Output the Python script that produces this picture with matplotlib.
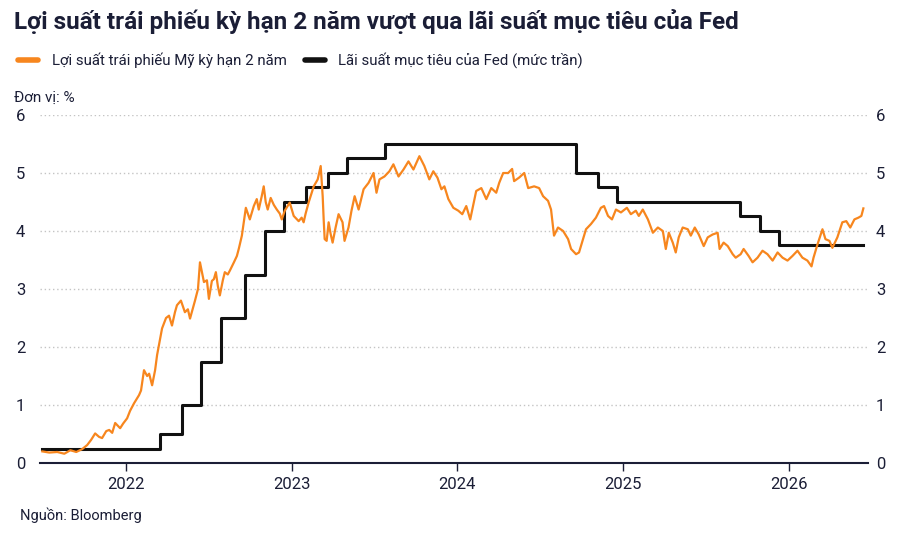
import numpy as np
import pandas as pd
import matplotlib
matplotlib.use("Agg")
import matplotlib.pyplot as plt

# ============================================================
# DATA (x in decimal years)
# ============================================================

yield_t = [
    2021.494, 2021.536, 2021.584, 2021.627, 2021.663, 2021.699, 2021.735, 2021.765,
    2021.789, 2021.813, 2021.837, 2021.855, 2021.880, 2021.898, 2021.916, 2021.934,
    2021.964, 2021.982, 2022.006, 2022.024, 2022.048, 2022.078, 2022.090, 2022.108,
    2022.127, 2022.139, 2022.157, 2022.175, 2022.187, 2022.217, 2022.241, 2022.259,
    2022.277, 2022.295, 2022.307, 2022.331, 2022.355, 2022.373, 2022.386, 2022.416,
    2022.434, 2022.446, 2022.470, 2022.488, 2022.500, 2022.518, 2022.530, 2022.542,
    2022.554, 2022.566, 2022.584, 2022.596, 2022.614, 2022.627, 2022.651, 2022.669,
    2022.681, 2022.699, 2022.723, 2022.747, 2022.771, 2022.789, 2022.801, 2022.819,
    2022.831, 2022.843, 2022.855, 2022.873, 2022.892, 2022.910, 2022.928, 2022.940,
    2022.958, 2022.988, 2023.012, 2023.042, 2023.060, 2023.072, 2023.084, 2023.102,
    2023.133, 2023.157, 2023.175, 2023.187, 2023.193, 2023.199, 2023.211, 2023.223,
    2023.235, 2023.247, 2023.265, 2023.283, 2023.307, 2023.319, 2023.343, 2023.361,
    2023.380, 2023.404, 2023.434, 2023.464, 2023.494, 2023.512, 2023.530, 2023.560,
    2023.590, 2023.614, 2023.645, 2023.675, 2023.705, 2023.735, 2023.771, 2023.801,
    2023.831, 2023.855, 2023.880, 2023.904, 2023.922, 2023.946, 2023.976, 2024.006,
    2024.030, 2024.054, 2024.078, 2024.114, 2024.145, 2024.175, 2024.205, 2024.235,
    2024.253, 2024.277, 2024.307, 2024.331, 2024.343, 2024.373, 2024.404, 2024.428,
    2024.464, 2024.494, 2024.518, 2024.548, 2024.566, 2024.584, 2024.608, 2024.639,
    2024.669, 2024.687, 2024.717, 2024.735, 2024.759, 2024.777, 2024.807, 2024.837,
    2024.867, 2024.886, 2024.910, 2024.934, 2024.958, 2024.988, 2025.024, 2025.048,
    2025.078, 2025.096, 2025.120, 2025.151, 2025.181, 2025.211, 2025.241, 2025.259,
    2025.277, 2025.301, 2025.319, 2025.337, 2025.361, 2025.392, 2025.410, 2025.434,
    2025.458, 2025.488, 2025.512, 2025.542, 2025.572, 2025.584, 2025.608, 2025.633,
    2025.663, 2025.681, 2025.711, 2025.729, 2025.759, 2025.783, 2025.813, 2025.843,
    2025.873, 2025.904, 2025.934, 2025.964, 2025.994, 2026.024, 2026.054, 2026.084,
    2026.114, 2026.139, 2026.151, 2026.175, 2026.205, 2026.223, 2026.247, 2026.265,
    2026.295, 2026.325, 2026.349, 2026.373, 2026.398, 2026.422, 2026.440, 2026.452,
]

yield_2y = [
    0.20, 0.18, 0.19, 0.16, 0.22, 0.19, 0.24, 0.31,
    0.40, 0.51, 0.45, 0.43, 0.55, 0.57, 0.52, 0.69,
    0.60, 0.68, 0.77, 0.90, 1.03, 1.17, 1.25, 1.60,
    1.50, 1.54, 1.34, 1.60, 1.86, 2.32, 2.50, 2.54,
    2.37, 2.60, 2.72, 2.80, 2.60, 2.65, 2.49, 2.80,
    3.00, 3.46, 3.12, 3.15, 2.83, 3.14, 3.17, 3.29,
    3.05, 2.89, 3.15, 3.29, 3.25, 3.32, 3.46, 3.57,
    3.70, 3.92, 4.40, 4.20, 4.43, 4.55, 4.37, 4.60,
    4.77, 4.50, 4.37, 4.57, 4.45, 4.37, 4.30, 4.20,
    4.35, 4.49, 4.26, 4.17, 4.23, 4.15, 4.30, 4.49,
    4.77, 4.89, 5.12, 4.60, 4.20, 3.86, 3.83, 4.15,
    3.95, 3.80, 4.06, 4.29, 4.15, 3.83, 4.06, 4.35,
    4.60, 4.37, 4.72, 4.83, 5.00, 4.66, 4.89, 4.94,
    5.03, 5.15, 4.94, 5.06, 5.20, 5.06, 5.29, 5.12,
    4.89, 5.03, 4.92, 4.72, 4.77, 4.55, 4.40, 4.35,
    4.29, 4.43, 4.20, 4.69, 4.74, 4.55, 4.74, 4.66,
    4.83, 5.00, 5.00, 5.07, 4.86, 4.92, 5.00, 4.74,
    4.77, 4.74, 4.60, 4.52, 4.37, 3.92, 4.06, 4.00,
    3.86, 3.69, 3.60, 3.63, 3.86, 4.03, 4.12, 4.23,
    4.40, 4.43, 4.26, 4.20, 4.37, 4.32, 4.40, 4.29,
    4.35, 4.26, 4.37, 4.20, 3.97, 4.06, 4.00, 3.69,
    3.97, 3.80, 3.63, 3.89, 4.06, 4.03, 3.92, 4.06,
    3.94, 3.74, 3.89, 3.94, 3.97, 3.69, 3.80, 3.74,
    3.60, 3.54, 3.60, 3.69, 3.57, 3.46, 3.54, 3.66,
    3.60, 3.49, 3.63, 3.54, 3.49, 3.57, 3.66, 3.54,
    3.49, 3.39, 3.54, 3.77, 4.03, 3.86, 3.83, 3.71,
    3.89, 4.15, 4.17, 4.06, 4.20, 4.23, 4.26, 4.39,
]

# Fed funds target upper bound: level in effect from each date onward
fed_t = [
    2021.494, 2022.205, 2022.340, 2022.455, 2022.570, 2022.720, 2022.838,
    2022.953, 2023.085, 2023.220, 2023.335, 2023.565, 2024.715, 2024.852,
    2024.962, 2025.710, 2025.825, 2025.942,
]
fed_rate = [
    0.25, 0.50, 1.00, 1.75, 2.50, 3.25, 4.00,
    4.50, 4.75, 5.00, 5.25, 5.50, 5.00, 4.75,
    4.50, 4.25, 4.00, 3.75,
]
fed_end = 2026.452

year_ticks = [2022, 2023, 2024, 2025, 2026]
y_ticks = [0, 1, 2, 3, 4, 5, 6]

TITLE = "Lợi suất trái phiếu kỳ hạn 2 năm vượt qua lãi suất mục tiêu của Fed"
LABEL_YIELD = "Lợi suất trái phiếu Mỹ kỳ hạn 2 năm"
LABEL_FED = "Lãi suất mục tiêu của Fed (mức trần)"
UNIT = "Đơn vị: %"
SOURCE = "Nguồn: Bloomberg"

# ============================================================
# STYLE
# ============================================================

ORANGE = "#f7861e"
BLACK = "#111111"
NAVY = "#1b1e36"
GRID = "#c4c4c4"

plt.rcParams["font.family"] = ["Roboto", "DejaVu Sans"]

fig = plt.figure(figsize=(9, 5.4), dpi=100, facecolor="white")
ax = fig.add_axes([40 / 900, 1 - 463 / 540, 828 / 900, 348 / 540])

ax.plot(yield_t, yield_2y, color=ORANGE, linewidth=1.6, zorder=3)
ax.step(fed_t + [fed_end], fed_rate + [fed_rate[-1]], where="post",
        color=BLACK, linewidth=2.2, zorder=2)

ax.set_xlim(2021.48, 2026.48)
ax.set_ylim(0, 6)

ax.set_yticks(y_ticks)
ax.set_xticks(year_ticks)
ax.set_xticklabels([str(y) for y in year_ticks], fontsize=12, color=NAVY)
ax.tick_params(axis="x", length=6, width=1, color=NAVY, pad=4)
ax.tick_params(axis="y", length=0, labelsize=12, labelcolor=NAVY, pad=14)
for lab in ax.get_yticklabels():
    lab.set_horizontalalignment("center")

# right-hand copy of the y labels
ax_r = ax.twinx()
ax_r.set_ylim(ax.get_ylim())
ax_r.set_yticks(y_ticks)
ax_r.tick_params(axis="y", length=0, labelsize=12, labelcolor=NAVY, pad=9)
for lab in ax_r.get_yticklabels():
    lab.set_horizontalalignment("center")
for a in (ax, ax_r):
    for side in ["top", "left", "right"]:
        a.spines[side].set_visible(False)
ax_r.spines["bottom"].set_visible(False)

ax.grid(axis="y", color=GRID, linestyle=(0, (1, 2)), linewidth=1)
ax.set_axisbelow(True)
ax.spines["bottom"].set_color(NAVY)
ax.spines["bottom"].set_linewidth(1.5)

fig.text(14 / 900, 1 - 22 / 540, TITLE, fontsize=17.5, fontweight="bold",
         color=NAVY, va="center", ha="left")

# legend drawn by hand to match the compact header style
fig.add_artist(plt.Line2D([18 / 900, 38 / 900], [1 - 60 / 540] * 2,
                          color=ORANGE, linewidth=4, solid_capstyle="round"))
fig.text(52 / 900, 1 - 60 / 540, LABEL_YIELD, fontsize=10.8, color=NAVY, va="center")
fig.add_artist(plt.Line2D([305 / 900, 325 / 900], [1 - 60 / 540] * 2,
                          color=BLACK, linewidth=4, solid_capstyle="round"))
fig.text(338 / 900, 1 - 60 / 540, LABEL_FED, fontsize=10.8, color=NAVY, va="center")

fig.text(14 / 900, 1 - 98 / 540, UNIT, fontsize=11, color=NAVY, va="center")
fig.text(20 / 900, 1 - 515 / 540, SOURCE, fontsize=10.5, color=NAVY, va="center")

fig.savefig("out.png", dpi=100, facecolor="white")
